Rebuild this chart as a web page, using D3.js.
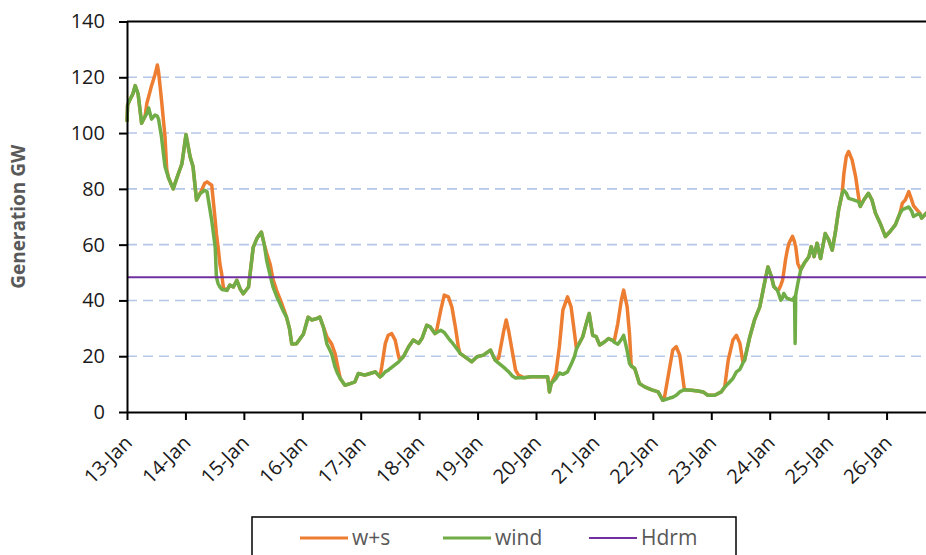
<!DOCTYPE html>
<html>
<head>
<meta charset="utf-8">
<script src="https://cdn.jsdelivr.net/npm/d3@7"></script>
<style>
  body { margin: 0; background: #fff; }
  svg { display: block; font-family: "Open Sans", sans-serif; }
</style>
</head>
<body>
<div id="chart"></div>
<script>
// Days after 13-Jan 00:00 for each reading
const dayOffsets = [
  0.00, 0.01, 0.05, 0.10, 0.14, 0.19, 0.25, 0.31, 0.34, 0.37, 0.42, 0.48, 0.52, 0.54, 0.59, 0.65, 0.68, 0.71, 0.79, 0.88, 0.94,
  1.01, 1.08, 1.13, 1.19, 1.25, 1.33, 1.37, 1.45, 1.51, 1.53, 1.56, 1.59, 1.62, 1.65, 1.71, 1.76, 1.82, 1.88, 1.94,
  1.99, 2.08, 2.16, 2.23, 2.30, 2.35, 2.39, 2.45, 2.50, 2.56, 2.62, 2.67, 2.73, 2.78, 2.82, 2.90,
  3.02, 3.10, 3.16, 3.25, 3.30, 3.36, 3.42, 3.50, 3.56, 3.60, 3.65, 3.73, 3.82, 3.90,
  3.96, 4.07, 4.16, 4.25, 4.33, 4.36, 4.42, 4.47, 4.53, 4.59, 4.65, 4.67, 4.73, 4.82, 4.90,
  4.99, 5.05, 5.13, 5.19, 5.27, 5.30, 5.37, 5.43, 5.50, 5.56, 5.62, 5.67, 5.70, 5.82, 5.90,
  5.99, 6.10, 6.22, 6.30, 6.36, 6.45, 6.49, 6.53, 6.59, 6.65, 6.70, 6.79, 6.91,
  7.07, 7.20, 7.23, 7.26, 7.34, 7.40, 7.46, 7.54, 7.60, 7.66, 7.69, 7.71, 7.80, 7.86, 7.91, 7.97,
  8.03, 8.09, 8.17, 8.24, 8.31, 8.34, 8.40, 8.46, 8.50, 8.56, 8.60, 8.63, 8.69, 8.77, 8.86, 8.97,
  9.09, 9.17, 9.20, 9.29, 9.34, 9.40, 9.46, 9.51, 9.54, 9.66, 9.77, 9.86, 9.94,
  10.06, 10.17, 10.23, 10.29, 10.37, 10.43, 10.49, 10.54, 10.57, 10.66, 10.74, 10.83, 10.91, 10.97,
  11.03, 11.07, 11.13, 11.16, 11.19, 11.22, 11.24, 11.27, 11.30, 11.33, 11.39, 11.425, 11.435, 11.445, 11.48, 11.53, 11.59, 11.67, 11.71, 11.76, 11.81, 11.87, 11.95,
  12.01, 12.07, 12.13, 12.18, 12.24, 12.27, 12.31, 12.35, 12.41, 12.47, 12.52, 12.55, 12.61, 12.69, 12.75, 12.81, 12.89, 12.98,
  13.06, 13.15, 13.23, 13.27, 13.32, 13.38, 13.43, 13.46, 13.52, 13.57, 13.60, 13.68, 13.75
];

// wind generation, GW
const windGW = [
  104, 110, 112, 114, 117, 114, 103.5, 106, 107, 109, 105, 106.5, 106, 105, 98.7, 88, 86, 84, 80, 85.5, 89,
  99.5, 91.5, 88, 76, 78.3, 79.5, 79, 68.7, 59, 48.4, 46, 44.8, 44, 43.8, 43.6, 45.5, 44.8, 47.2, 44,
  42.4, 44.8, 59, 62.5, 64.5, 60, 54.4, 49, 44.8, 41.5, 38.8, 36.4, 34, 30, 24.4, 24.5,
  28, 34, 33, 33.5, 34, 30.5, 24.5, 21, 16.2, 14, 12, 9.6, 10.2, 10.8,
  13.8, 13.2, 13.8, 14.4, 12.6, 13, 14.4, 15, 16, 17, 18, 18.5, 19.8, 23.4, 25.8,
  24.6, 26.4, 31.1, 30.5, 28.1, 28.5, 29.3, 28.5, 26.5, 25, 23.4, 22, 21, 19.2, 18,
  19.8, 20.4, 22.2, 18.6, 17.5, 16, 15.2, 14.5, 13, 12.2, 12.3, 12.3, 12.6,
  12.6, 12.6, 7.2, 10.2, 12, 14, 13.5, 14.4, 17, 20, 22.5, 23.4, 27, 31.7, 35.3, 27.5,
  27, 24, 25.1, 26.3, 25.7, 25, 24.3, 26, 27.5, 22, 17.4, 16.5, 15.6, 10.2, 9, 8,
  7.2, 4.2, 4.4, 5, 5.3, 6, 7.2, 7.7, 8, 7.8, 7.5, 7.2, 6,
  6, 7.2, 9, 10.2, 12, 14.4, 15.3, 17.5, 18.6, 27, 33, 37.7, 46.1, 52,
  48.5, 45, 43.7, 42, 40.1, 41, 42.5, 41.5, 40.7, 40.5, 40.1, 41.3, 24.6, 42, 46, 50.9, 53.3, 55.7, 59.3, 55.7, 60.5, 55, 64,
  61.7, 58, 65.3, 72.5, 78.4, 79.5, 78.5, 76.6, 76.2, 75.8, 75.4, 73.7, 76, 78.4, 76, 71.3, 67.7, 62.9,
  64.7, 67.1, 71.3, 72.5, 73, 73.5, 72, 70.1, 70.8, 71, 69.5, 71.3, 69
];

// wind + solar generation, GW
const windSolarGW = [
  104, 110, 112, 114, 117, 114, 103.5, 106, 110.7, 113, 117, 121, 124.4, 122, 112, 98.7, 87, 84, 80, 85.5, 89,
  99.5, 91.5, 88, 76, 78.3, 82, 82.5, 81.3, 68.7, 64, 59, 53, 49.6, 44.5, 43.6, 45.5, 44.8, 47.2, 44,
  42.4, 44.8, 59, 62.5, 64.5, 60, 57, 53, 47.5, 43.6, 40.5, 37.6, 34, 30, 24.4, 24.5,
  28, 34, 33, 33.5, 34, 30.5, 27, 24.5, 21, 17, 12, 9.6, 10.2, 10.8,
  13.8, 13.2, 13.8, 14.4, 12.6, 16.2, 24.5, 27.5, 28.1, 25.8, 19.8, 18.5, 19.8, 23.4, 25.8,
  24.6, 26.4, 31.1, 30.5, 28.1, 29.3, 36.5, 41.9, 41.3, 37.7, 30.5, 23.4, 21, 19.2, 18,
  19.8, 20.4, 22.2, 18.6, 19.2, 29.3, 33, 29.3, 22.2, 15, 13.2, 12.3, 12.6,
  12.6, 12.6, 7.2, 10.2, 13.8, 23.4, 36.5, 41.3, 37.7, 28.1, 23, 23.4, 27, 31.7, 35.3, 27.5,
  27, 24, 25.1, 26.3, 25.7, 25.5, 31.7, 40.1, 43.7, 37.7, 28.1, 16.5, 15.6, 10.2, 9, 8,
  7.2, 4.2, 5.4, 16.2, 22.2, 23.4, 20.4, 12.6, 8, 7.8, 7.5, 7.2, 6,
  6, 7.2, 9, 18.6, 25.8, 27.5, 24.6, 18, 18.6, 27, 33, 37.7, 46.1, 52,
  48.5, 45, 43.7, 44, 45.5, 47.3, 50, 54.5, 58, 60.5, 63, 61, 60, 59.3, 53.3, 50.9, 53.3, 55.7, 59.3, 55.7, 60.5, 55, 64,
  61.7, 58, 65.3, 72.5, 78.4, 85.6, 91.6, 93.4, 90.4, 84.4, 77.2, 73.7, 76, 78.4, 76, 71.3, 67.7, 62.9,
  64.7, 67.1, 71.3, 74.9, 76, 79, 76, 74, 72.5, 71.3, 69.5, 71.3, 69
];

// headroom level, GW
const hdrmGW = 48.3;

const yTicks = [0, 20, 40, 60, 80, 100, 120, 140];
const seriesNames = ["w+s", "wind", "Hdrm"];
const seriesColors = ["#ED7D31", "#70AD47", "#7030A0"];

const width = 926;
const height = 555;
const margin = {left: 127, top: 21.5, bottom: 143};
const plotRight = 945;

const start = new Date(2021, 0, 13);
const end = new Date(2021, 0, 27);
const toDate = (d) => new Date(start.getTime() + d * 864e5);

const rows = dayOffsets.map((d, i) => ({
  date: toDate(d), wind: windGW[i], ws: windSolarGW[i]
}));

const svg = d3.select("#chart")
  .append("svg")
  .attr("width", width)
  .attr("height", height);

const x = d3.scaleTime()
  .domain([start, end])
  .range([margin.left, plotRight]);

const y = d3.scaleLinear()
  .domain([0, 140])
  .range([height - margin.bottom, margin.top]);

// dashed gridlines
svg.append("g")
  .selectAll("line")
  .data(yTicks.filter(t => t > 0 && t < 140))
  .enter()
  .append("line")
  .attr("x1", margin.left)
  .attr("x2", plotRight)
  .attr("y1", d => y(d))
  .attr("y2", d => y(d))
  .attr("stroke", "#B4C7E7")
  .attr("stroke-width", 1.6)
  .attr("stroke-dasharray", "10,6");

// top border of the plot
svg.append("line")
  .attr("x1", margin.left)
  .attr("x2", plotRight)
  .attr("y1", y(140))
  .attr("y2", y(140))
  .attr("stroke", "#000")
  .attr("stroke-width", 2);

// series
const line = (key) => d3.line()
  .x(d => x(d.date))
  .y(d => y(d[key]));

svg.append("path")
  .datum(rows)
  .attr("fill", "none")
  .attr("stroke", seriesColors[0])
  .attr("stroke-width", 3.5)
  .attr("stroke-linejoin", "round")
  .attr("d", line("ws"));

svg.append("path")
  .datum(rows)
  .attr("fill", "none")
  .attr("stroke", seriesColors[1])
  .attr("stroke-width", 3.5)
  .attr("stroke-linejoin", "round")
  .attr("d", line("wind"));

svg.append("line")
  .attr("x1", x(start))
  .attr("x2", x(end))
  .attr("y1", y(hdrmGW))
  .attr("y2", y(hdrmGW))
  .attr("stroke", seriesColors[2])
  .attr("stroke-width", 2);

// y axis
const yAxis = svg.append("g")
  .attr("transform", `translate(${margin.left},0)`)
  .call(d3.axisLeft(y).tickValues(yTicks).tickSize(8).tickSizeOuter(0).tickPadding(14));
yAxis.select(".domain").attr("stroke", "#000").attr("stroke-width", 2);
yAxis.selectAll(".tick line").attr("stroke", "#000").attr("stroke-width", 2);
yAxis.selectAll("text")
  .attr("font-size", "20px")
  .attr("font-family", "Open Sans")
  .attr("fill", "#1a1a1a");

// x axis, one tick per day up to 26-Jan
const xAxis = svg.append("g")
  .attr("transform", `translate(0,${y(0)})`)
  .call(d3.axisBottom(x)
    .tickValues(d3.timeDay.range(start, end))
    .tickFormat(d3.timeFormat("%-d-%b"))
    .tickSize(8)
    .tickSizeOuter(0));
xAxis.select(".domain").attr("stroke", "#000").attr("stroke-width", 2);
xAxis.selectAll(".tick line").attr("stroke", "#000").attr("stroke-width", 2);
xAxis.selectAll("text")
  .attr("font-size", "20px")
  .attr("font-family", "Open Sans")
  .attr("fill", "#1a1a1a")
  .attr("text-anchor", "end")
  .attr("y", 0)
  .attr("dy", 0)
  .attr("transform", "translate(6,32) rotate(-45)");

// y axis title
svg.append("text")
  .attr("transform", `translate(25,${(y(0) + y(140)) / 2}) rotate(-90)`)
  .attr("text-anchor", "middle")
  .attr("font-size", "19px")
  .attr("font-weight", "bold")
  .attr("fill", "#595959")
  .text("Generation GW");

// legend
const legend = svg.append("g");
legend.append("rect")
  .attr("x", 252)
  .attr("y", 517)
  .attr("width", 484)
  .attr("height", 60)
  .attr("fill", "#fff")
  .attr("stroke", "#000")
  .attr("stroke-width", 1.5);

const legendX = [300, 443, 589];
seriesNames.forEach((name, i) => {
  legend.append("line")
    .attr("x1", legendX[i])
    .attr("x2", legendX[i] + 48)
    .attr("y1", 538)
    .attr("y2", 538)
    .attr("stroke", seriesColors[i])
    .attr("stroke-width", i === 2 ? 2 : 3);
  legend.append("text")
    .attr("x", legendX[i] + 52)
    .attr("y", 545)
    .attr("font-size", "21px")
    .attr("fill", "#595959")
    .text(name);
});
</script>
</body>
</html>
